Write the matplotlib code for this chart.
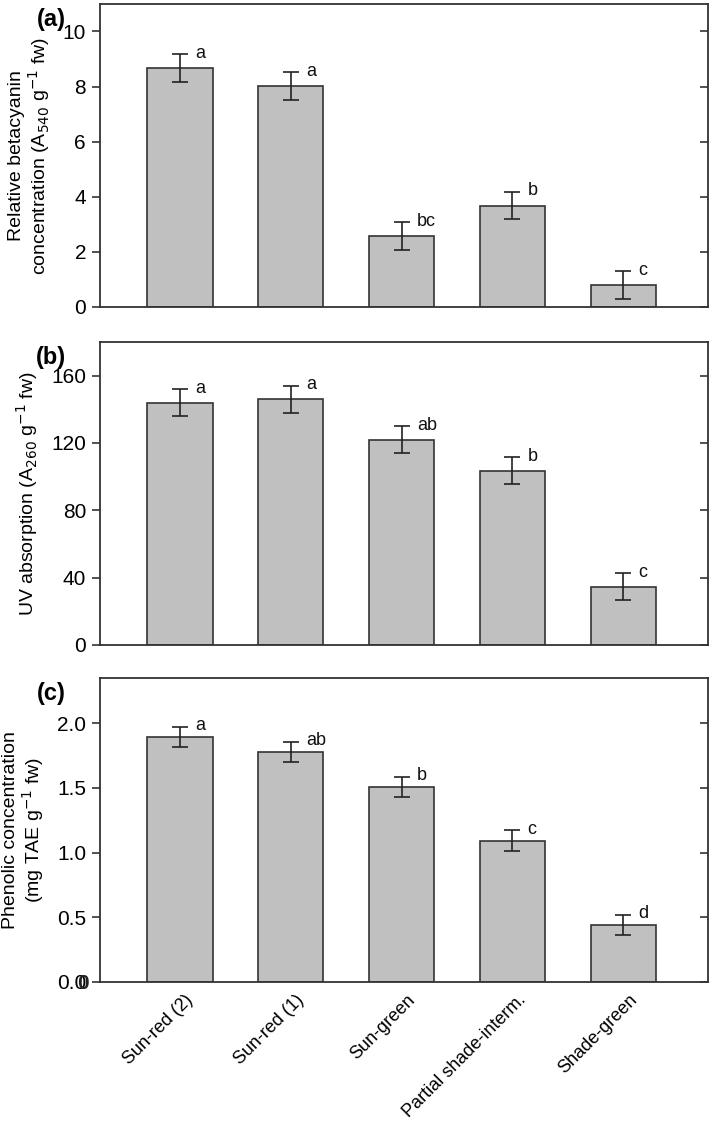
import matplotlib
matplotlib.use('Agg')
import matplotlib.pyplot as plt
import matplotlib.transforms as mtransforms
import numpy as np

plt.rcParams['font.family'] = ['Liberation Sans', 'DejaVu Sans']

# datos
grupos = ['Sun-red (2)', 'Sun-red (1)', 'Sun-green', 'Partial shade-interm.', 'Shade-green']

beta = [8.68, 8.02, 2.58, 3.68, 0.80]
beta_err = [0.50, 0.50, 0.50, 0.50, 0.50]
beta_let = ['a', 'a', 'bc', 'b', 'c']

uv = [144, 146, 122, 103.5, 34.5]
uv_err = [8, 8, 8, 8, 8]
uv_let = ['a', 'a', 'ab', 'b', 'c']

fen = [1.895, 1.78, 1.507, 1.093, 0.443]
fen_err = [0.078, 0.078, 0.078, 0.078, 0.078]
fen_let = ['a', 'ab', 'b', 'c', 'd']

x = np.arange(len(grupos))
gris = '#333333'

fig = plt.figure(figsize=(7.09, 11.27), dpi=100)

paneles = [
    ([0.141, 0.7276, 0.857, 0.2689], beta, beta_err, beta_let, (0, 11), [0, 2, 4, 6, 8, 10],
     ['0', '2', '4', '6', '8', '10'],
     'Relative betacyanin\nconcentration (A$_{540}$ g$^{-1}$ fw)', '(a)'),
    ([0.141, 0.4277, 0.857, 0.2689], uv, uv_err, uv_let, (0, 180), [0, 40, 80, 120, 160],
     ['0', '40', '80', '120', '160'],
     'UV absorption (A$_{260}$ g$^{-1}$ fw)', '(b)'),
    ([0.141, 0.1287, 0.857, 0.2697], fen, fen_err, fen_let, (0, 2.35), [0, 0.5, 1.0, 1.5, 2.0],
     ['0.0', '0.5', '1.0', '1.5', '2.0'],
     'Phenolic concentration\n(mg TAE g$^{-1}$ fw)', '(c)'),
]

axes = []
for pos, vals, errs, lets, ylim, yt, ytl, ylab, tag in paneles:
    ax = fig.add_axes(pos)
    ax.bar(x, vals, width=0.59, color='#c0c0c0', edgecolor=gris, linewidth=1.2, zorder=2)
    ax.errorbar(x, vals, yerr=errs, fmt='none', ecolor='#222222', elinewidth=1.2,
                capsize=6, capthick=1.2, zorder=3)
    off = mtransforms.offset_copy(ax.transData, fig=fig, x=2, y=1, units='dots')
    for xi, v, e, l in zip(x, vals, errs, lets):
        ax.text(xi + 0.12, v + e, l, fontsize=13, ha='left', va='center',
                color='#111111', transform=off)
    ax.set_xlim(-0.72, 4.76)
    ax.set_ylim(*ylim)
    ax.set_yticks(yt)
    ax.set_yticklabels(ytl)
    ax.tick_params(axis='y', which='both', direction='out', length=6, width=1.2,
                   labelsize=15, color=gris, pad=4)
    ax.tick_params(axis='x', length=0)
    for s in ax.spines.values():
        s.set_color(gris)
        s.set_linewidth(1.3)
    ax.set_ylabel(ylab, fontsize=14, labelpad=8, linespacing=1.05)
    tr = mtransforms.offset_copy(ax.transAxes, fig=fig, x=-34, y=-4, units='dots')
    ax.text(0, 1.0, tag, transform=tr, fontsize=17, fontweight='bold',
            ha='right', va='top')
    # ticks de la derecha hacia adentro
    ax2 = ax.secondary_yaxis('right')
    ax2.set_yticks(yt)
    ax2.tick_params(direction='in', length=6, width=1.2, color=gris, labelright=False)
    ax2.spines['right'].set_visible(False)
    axes.append(ax)

axes[0].set_xticks([])
axes[1].set_xticks([])
ax = axes[2]
ax.set_xticks(x)
ax.set_xticklabels(grupos, rotation=45, ha='right', va='top', rotation_mode='anchor',
                   fontsize=13)
ax.tick_params(axis='x', pad=7)
desp = mtransforms.ScaledTranslation(5 / 100, 0, fig.dpi_scale_trans)
for lab in ax.get_xticklabels():
    lab.set_transform(lab.get_transform() + desp)

# el "0" superpuesto sobre el ultimo digito de "0.0"
tr0 = mtransforms.offset_copy(ax.transAxes, fig=fig, x=-11, y=0, units='dots')
ax.text(0, 0.0, '0', transform=tr0, fontsize=15, ha='right', va='center_baseline',
        fontweight='bold', color='#222222')

fig.savefig('out.png', dpi=100)
